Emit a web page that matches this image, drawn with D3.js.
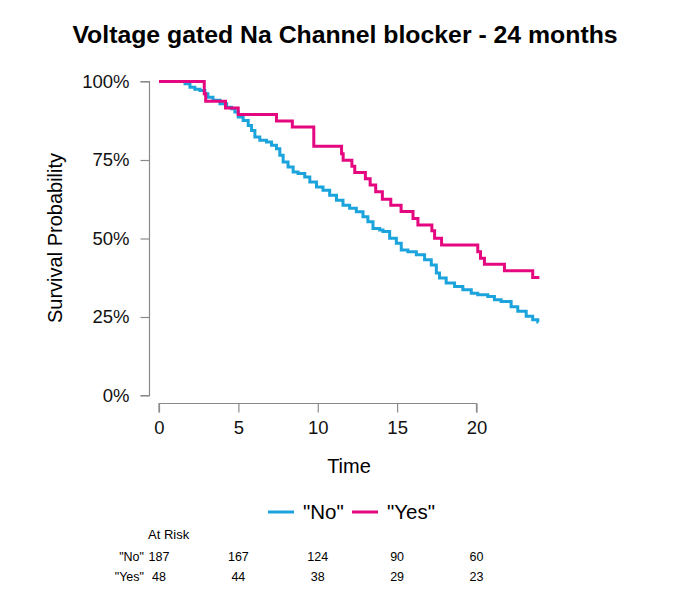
<!DOCTYPE html>
<html>
<head>
<meta charset="utf-8">
<script src="https://cdn.jsdelivr.net/npm/d3@7"></script>
<style>
  body { margin: 0; background: #fff; }
  text { font-family: "Liberation Sans", Arial, sans-serif; }
</style>
</head>
<body>
<svg width="680" height="591"></svg>
<script>
// survival steps (time in months, survival in %)
const noTime = [0, 1.64, 1.95, 2.26, 2.58, 2.89, 3.08, 3.40, 3.84, 4.26, 4.57, 4.78, 4.99, 5.30, 5.62, 5.83,
  6.04, 6.35, 6.77, 7.09, 7.40, 7.61, 7.82, 8.13, 8.45, 8.76, 9.18, 9.50, 9.92, 10.33, 10.75, 11.18,
  11.59, 12.01, 12.43, 12.85, 13.16, 13.48, 13.90, 14.11, 14.53, 14.95, 15.26, 15.68, 16.21, 16.73,
  17.15, 17.47, 17.67, 18.09, 18.62, 19.14, 19.67, 20.08, 20.71, 21.13, 21.55, 22.18, 22.60, 23.13,
  23.54, 23.86];
const noSurv = [100, 99.3, 98.2, 97.5, 97.1, 96.1, 95.0, 94.0, 92.9, 91.8, 91.3, 90.3, 88.7, 87.6, 86.0, 84.4,
  82.3, 81.3, 80.7, 79.7, 78.6, 76.5, 74.4, 72.8, 71.2, 70.7, 69.6, 68.0, 66.4, 65.4, 63.8, 62.2,
  60.6, 59.6, 58.5, 56.9, 55.3, 53.2, 52.7, 52.2, 50.1, 48.5, 46.3, 45.8, 44.8, 43.2,
  41.6, 39.0, 37.4, 35.8, 34.7, 33.7, 32.6, 32.1, 31.5, 30.5, 29.9, 28.3, 26.8, 25.2,
  24.1, 23.4];
const noEnd = 23.9;

const yesTime = [0, 2.85, 2.94, 4.19, 4.99, 7.4, 8.4, 9.75, 11.5, 11.6, 12.15, 12.33, 13.0, 13.3, 13.65,
  14.07, 14.6, 15.25, 16.0, 16.31, 17.19, 17.36, 17.8, 20.08, 20.25, 20.5, 21.76, 23.54];
const yesSurv = [100, 96.1, 93.7, 91.6, 89.5, 87.4, 85.5, 79.4, 77.0, 74.9, 73.0, 71.0, 69.0, 67.0, 64.9,
  62.5, 60.6, 58.6, 56.4, 54.3, 52.5, 50.1, 47.9, 45.8, 43.7, 41.8, 39.7, 37.6];
const yesEnd = 23.96;

const xTicks = [0, 5, 10, 15, 20];
const yTicks = [0, 0.25, 0.5, 0.75, 1];
const groups = ['"No"', '"Yes"'];
const colors = ['#1ba3dc', '#e5077f'];
const riskNo = [187, 167, 124, 90, 60];
const riskYes = [48, 44, 38, 29, 23];

const svg = d3.select('svg');

const x = d3.scaleLinear().domain([0, 24]).range([159, 540]);
const y = d3.scaleLinear().domain([0, 1]).range([395.5, 81.5]);

// title
svg.append('text')
  .attr('x', 345).attr('y', 43)
  .attr('text-anchor', 'middle')
  .style('font-size', '24.8px').style('font-weight', 'bold')
  .text('Voltage gated Na Channel blocker - 24 months');

// y axis
const yAxis = svg.append('g')
  .attr('transform', 'translate(149.5,0)')
  .call(d3.axisLeft(y).tickValues(yTicks).tickFormat(d3.format('.0%')).tickSize(9).tickPadding(11));
yAxis.select('.domain').attr('d', `M-9,${y(0)}H0V${y(1)}H-9`);

// x axis
const xAxis = svg.append('g')
  .attr('transform', 'translate(0,403.5)')
  .call(d3.axisBottom(x).tickValues(xTicks).tickSize(9).tickPadding(8));
xAxis.select('.domain').attr('d', `M${x(0)},9V0H${x(20)}V9`);

svg.selectAll('.domain, .tick line').attr('stroke', '#8a8a8a').attr('stroke-width', 1.2);
svg.selectAll('.tick text')
  .attr('fill', '#111')
  .style('font-size', '18.5px')
  .style('font-family', '"Liberation Sans", Arial, sans-serif');

// axis titles
svg.append('text')
  .attr('x', 349).attr('y', 473)
  .attr('text-anchor', 'middle')
  .style('font-size', '20px')
  .text('Time');

svg.append('text')
  .attr('transform', 'translate(62,238) rotate(-90)')
  .attr('text-anchor', 'middle')
  .style('font-size', '20px')
  .text('Survival Probability');

// curves
const line = d3.line()
  .x(d => x(d[0]))
  .y(d => y(d[1] / 100))
  .curve(d3.curveStepAfter);

const noData = noTime.map((t, i) => [t, noSurv[i]]).concat([[noEnd, noSurv[noSurv.length - 1]]]);
const yesData = yesTime.map((t, i) => [t, yesSurv[i]]).concat([[yesEnd, yesSurv[yesSurv.length - 1]]]);

svg.append('path')
  .attr('d', line(noData))
  .attr('fill', 'none')
  .attr('stroke', colors[0])
  .attr('stroke-width', 3);

svg.append('path')
  .attr('d', line(yesData))
  .attr('fill', 'none')
  .attr('stroke', colors[1])
  .attr('stroke-width', 3);

// legend
const legendX = [268, 352];
groups.forEach((g, i) => {
  svg.append('line')
    .attr('x1', legendX[i]).attr('x2', legendX[i] + 26)
    .attr('y1', 512).attr('y2', 512)
    .attr('stroke', colors[i]).attr('stroke-width', 3);
  svg.append('text')
    .attr('x', legendX[i] + 35).attr('y', 519)
    .style('font-size', '20.5px')
    .text(g);
});

// at risk table
svg.append('text')
  .attr('x', 148).attr('y', 539)
  .style('font-size', '13px')
  .text('At Risk');

[riskNo, riskYes].forEach((row, i) => {
  const ry = 561 + i * 19.5;
  svg.append('text')
    .attr('x', 144).attr('y', ry)
    .attr('text-anchor', 'end')
    .style('font-size', '12.5px')
    .text(groups[i]);
  svg.selectAll(null)
    .data(row)
    .join('text')
    .attr('x', (d, j) => x(xTicks[j]))
    .attr('y', ry)
    .attr('text-anchor', 'middle')
    .style('font-size', '12.5px')
    .text(d => d);
});
</script>
</body>
</html>
